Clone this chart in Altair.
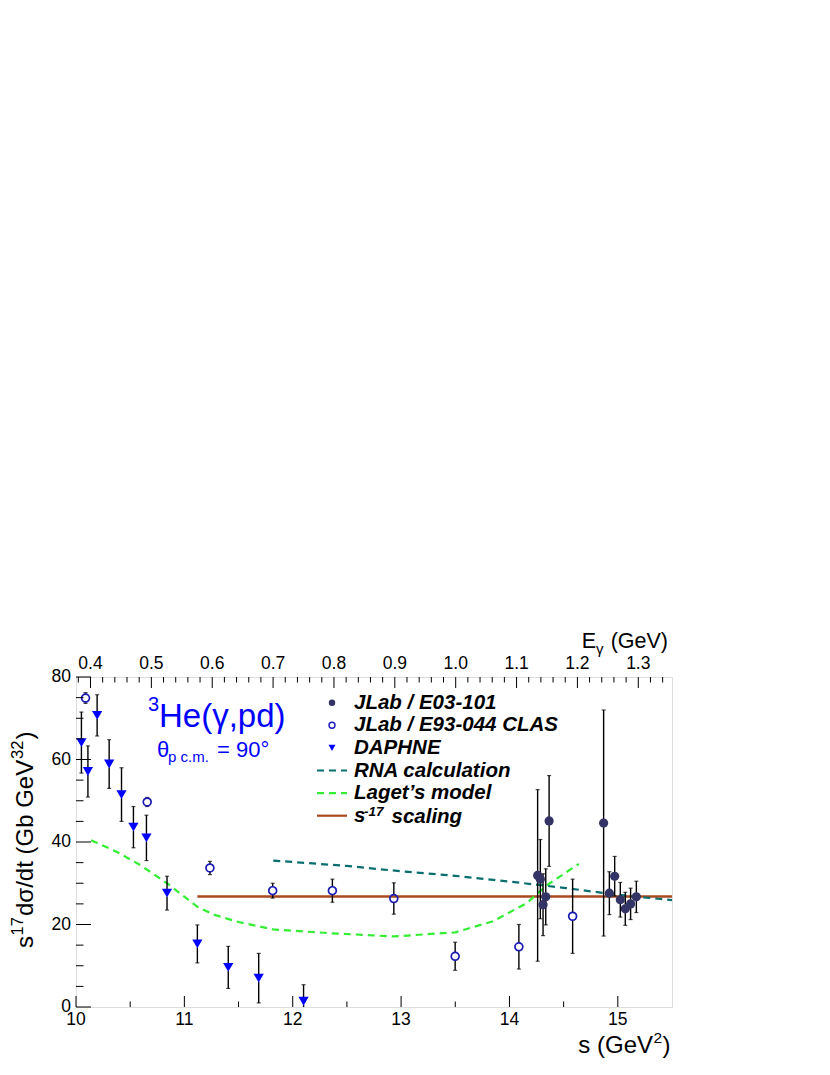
import altair as alt
import pandas as pd

# ---------------- data ----------------
jlab_s = [14.26, 14.285, 14.31, 14.335, 14.366, 14.869, 14.922, 14.971, 15.023, 15.069, 15.118, 15.171]
jlab_y = [31.9, 31.0, 24.8, 26.7, 45.1, 44.6, 27.6, 31.7, 26.0, 23.8, 25.0, 26.7]
jlab_err = [20.8, 9.6, 7.5, 6.8, 11.0, 27.4, 5.2, 4.8, 4.2, 4.0, 3.8, 3.8]

clas_s = [10.088, 10.657, 11.236, 11.815, 12.366, 12.933, 13.499, 14.087, 14.583]
clas_y = [74.9, 49.7, 33.7, 28.2, 28.2, 26.3, 12.3, 14.6, 22.0]
clas_err = [1.3, 1.1, 1.6, 1.8, 2.8, 3.8, 3.4, 5.4, 9.0]

daphne_s = [10.05, 10.11, 10.195, 10.306, 10.42, 10.53, 10.65, 10.84, 11.12, 11.405, 11.686, 12.10]
daphne_y = [64.1, 57.1, 70.7, 58.9, 51.5, 43.6, 41.0, 27.6, 15.3, 9.6, 7.0, 1.4]
daphne_err = [7.4, 6.2, 5.0, 5.9, 6.5, 5.0, 5.5, 4.1, 4.6, 5.1, 6.0, 4.0]

rna_s = [11.82, 12.5, 13.0, 13.5, 14.0, 14.5, 15.0, 15.5]
rna_y = [35.5, 34.2, 32.9, 31.8, 30.4, 28.9, 27.2, 25.9]

laget_s = [10.14, 10.37, 10.6, 10.84, 11.12, 11.27, 11.5, 11.82, 12.34, 12.93, 13.5, 13.85, 14.16, 14.35, 14.64]
laget_y = [40.4, 37.7, 34.3, 30.0, 24.3, 22.4, 20.6, 18.8, 17.9, 17.1, 18.1, 20.8, 25.2, 29.6, 34.7]

scaling_s = [11.12, 15.5]
scaling_y = [26.8, 26.8]

legend_labels = ["JLab / E03-101", "JLab / E93-044 CLAS", "DAPHNE",
                 "RNA calculation", "Laget\u2019s model", "s"]

s_ticks = [10, 11, 12, 13, 14, 15]
s_minor = [10.5, 11.5, 12.5, 13.5, 14.5]
y_ticks = [0, 20, 40, 60, 80]
y_minor = [5, 10, 15, 25, 30, 35, 45, 50, 55, 65, 70, 75]
e_ticks = [0.4, 0.5, 0.6, 0.7, 0.8, 0.9, 1.0, 1.1, 1.2, 1.3]
e_minor = [0.38, 0.42, 0.44, 0.46, 0.48, 0.52, 0.54, 0.56, 0.58, 0.62, 0.64, 0.66, 0.68,
           0.72, 0.74, 0.76, 0.78, 0.82, 0.84, 0.86, 0.88, 0.92, 0.94, 0.96, 0.98,
           1.02, 1.04, 1.06, 1.08, 1.12, 1.14, 1.16, 1.18, 1.22, 1.24, 1.26, 1.28,
           1.32, 1.34]

# ---------------- geometry / style ----------------
W, H = 596, 330
FONT = "Liberation Sans"
S_DOMAIN = [10.0, 15.5]
M_HE3 = 2.80839  # 3He mass, s = M^2 + 2 M E_gamma
E_DOMAIN = [(S_DOMAIN[0] - M_HE3 ** 2) / (2 * M_HE3), (S_DOMAIN[1] - M_HE3 ** 2) / (2 * M_HE3)]

C_JLAB = "#333366"
C_CLAS = "#1a1ab4"
C_DAPH = "#0000ff"
C_RNA = "#0a6e6e"
C_LAGET = "#33ee33"
C_SCAL = "#a84a1e"

xs = alt.Scale(domain=S_DOMAIN, nice=False, zero=False)
ys = alt.Scale(domain=[0, 80], nice=False, zero=False)
es = alt.Scale(domain=E_DOMAIN, nice=False, zero=False)


def frame(s, y, err=None):
    d = {"s": s, "y": y}
    if err is not None:
        d["lo"] = [a - b for a, b in zip(y, err)]
        d["hi"] = [a + b for a, b in zip(y, err)]
    return pd.DataFrame(d)


X0 = alt.X("s:Q", scale=xs, axis=None)
Y0 = alt.Y("y:Q", scale=ys, axis=None)


def errbars(df, gap):
    base = alt.Chart(df)
    up = base.mark_rule(color="black", strokeWidth=1.4, clip=True, y2Offset=-gap).encode(
        x=X0, y=alt.Y("hi:Q", scale=ys, axis=None), y2="y:Q")
    dn = base.mark_rule(color="black", strokeWidth=1.4, clip=True, y2Offset=gap).encode(
        x=X0, y=alt.Y("lo:Q", scale=ys, axis=None), y2="y:Q")
    cap_hi = base.mark_tick(color="black", orient="horizontal", size=4, thickness=1.2,
                            clip=True).encode(x=X0, y=alt.Y("hi:Q", scale=ys, axis=None))
    cap_lo = base.mark_tick(color="black", orient="horizontal", size=4, thickness=1.2,
                            clip=True).encode(x=X0, y=alt.Y("lo:Q", scale=ys, axis=None))
    return [up, dn, cap_hi, cap_lo]


df_j = frame(jlab_s, jlab_y, jlab_err)
df_c = frame(clas_s, clas_y, clas_err)
df_d = frame(daphne_s, daphne_y, daphne_err)

# theory curves
scal = alt.Chart(frame(scaling_s, scaling_y)).mark_line(color=C_SCAL, strokeWidth=2.5).encode(
    x=X0, y=Y0)
rna = alt.Chart(frame(rna_s, rna_y)).mark_line(color=C_RNA, strokeWidth=2.2,
                                               strokeDash=[7, 5]).encode(x=X0, y=Y0)
laget = alt.Chart(frame(laget_s, laget_y)).mark_line(color=C_LAGET, strokeWidth=2.2,
                                                     strokeDash=[7, 5]).encode(x=X0, y=Y0)

pts_d = alt.Chart(df_d).mark_point(shape="triangle-down", filled=True, color=C_DAPH,
                                   size=105, opacity=1, clip=True).encode(x=X0, y=Y0)
pts_c = alt.Chart(df_c).mark_point(shape="circle", filled=False, color=C_CLAS,
                                   size=62, strokeWidth=1.7, opacity=1).encode(x=X0, y=Y0)
pts_j = alt.Chart(df_j).mark_point(shape="circle", filled=True, color=C_JLAB,
                                   size=85, opacity=1).encode(x=X0, y=Y0)


# inward ticks
def tick_rules(vals, axis, length):
    df = pd.DataFrame({"v": vals})
    r = alt.Chart(df).mark_rule(color="black", strokeWidth=1)
    if axis == "bottom":
        return r.encode(x=alt.X("v:Q", scale=xs, axis=None), y=alt.value(H), y2=alt.value(H - length))
    return r.encode(y=alt.Y("v:Q", scale=ys, axis=None), x=alt.value(0), x2=alt.value(length))


ticks = [tick_rules(s_ticks, "bottom", 11), tick_rules(s_minor, "bottom", 5.5),
         tick_rules(y_ticks, "left", 15), tick_rules(y_minor, "left", 7.5)]

# tick labels
lab_bottom = alt.Chart(pd.DataFrame({"v": s_ticks})).mark_text(
    font=FONT, fontSize=17.5, color="black", align="center", baseline="top").encode(
    x=alt.X("v:Q", scale=xs, axis=None), y=alt.value(H + 4), text=alt.Text("v:Q", format="d"))
lab_left = alt.Chart(pd.DataFrame({"v": y_ticks})).mark_text(
    font=FONT, fontSize=17.5, color="black", align="right", baseline="middle").encode(
    y=alt.Y("v:Q", scale=ys, axis=None), x=alt.value(-5), text=alt.Text("v:Q", format="d"))

# legend
leg_df = pd.DataFrame({"label": legend_labels, "row": list(range(len(legend_labels)))})
leg_base = alt.Chart(leg_df).transform_calculate(py="25.7 + datum.row * 22.6")
leg_text = leg_base.mark_text(align="left", baseline="middle", font=FONT, fontSize=20.5,
                              fontWeight="bold", fontStyle="italic", color="black").encode(
    x=alt.value(278), y=alt.Y("py:Q", scale=None, axis=None), text="label:N")

leg_sym_j = leg_base.transform_filter("datum.row == 0").mark_point(
    shape="circle", filled=True, color=C_JLAB, size=42, opacity=1).encode(
    x=alt.value(256), y=alt.Y("py:Q", scale=None, axis=None))
leg_sym_c = leg_base.transform_filter("datum.row == 1").mark_point(
    shape="circle", filled=False, color=C_CLAS, size=36, strokeWidth=1.4, opacity=1).encode(
    x=alt.value(256), y=alt.Y("py:Q", scale=None, axis=None))
leg_sym_d = leg_base.transform_filter("datum.row == 2").mark_point(
    shape="triangle-down", filled=True, color=C_DAPH, size=50, opacity=1).encode(
    x=alt.value(256), y=alt.Y("py:Q", scale=None, axis=None))


def leg_line(row, color, dash):
    kw = dict(color=color, strokeWidth=2.2)
    if dash:
        kw["strokeDash"] = dash
    return leg_base.transform_filter(f"datum.row == {row}").mark_rule(**kw).encode(
        x=alt.value(241), x2=alt.value(271), y=alt.Y("py:Q", scale=None, axis=None))


leg_lines = [leg_line(3, C_RNA, [7, 5]), leg_line(4, C_LAGET, [7, 5]), leg_line(5, C_SCAL, None)]


# annotation texts
def txt(t, x, y, size, color="blue", align="left", weight="normal", style="normal", angle=0):
    return alt.Chart(pd.DataFrame({"t": [t]})).mark_text(
        align=align, baseline="alphabetic", font=FONT, fontSize=size, color=color,
        fontWeight=weight, fontStyle=style, angle=angle).encode(
        x=alt.value(x), y=alt.value(y), text="t:N")


annot = [
    # reaction label
    txt("3", 72, 33.7, 20),
    txt("He(\u03b3,pd)", 83, 49.7, 33),
    txt("\u03b8", 81, 79.7, 22),
    txt("p c.m.", 92, 84.7, 15),
    txt("= 90\u00b0", 141, 79.7, 22),
    # legend superscript for s^-17 scaling
    txt("-17", 288, 138.5, 13.5, color="black", weight="bold", style="italic"),
    txt("scaling", 315.5, 146, 20.5, color="black", weight="bold", style="italic"),
    # top axis title
    txt("E", 505.7, -28.7, 21.5, color="black"),
    txt("\u03b3", 520, -23, 15, color="black"),
    txt("(GeV)", 592, -28.7, 21.5, color="black", align="right"),
    # bottom axis title
    txt("s (GeV", 577, 376, 24, color="black", align="right"),
    txt("2", 577.5, 366, 15.5, color="black"),
    txt(")", 586.5, 376, 24, color="black"),
    # left axis title (rotated)
    txt("s", -43.5, 271, 24, color="black", angle=270),
    txt("17", -53, 258.5, 16.5, color="black", angle=270),
    txt("d\u03c3/dt (Gb GeV", -43.5, 239, 24, color="black", angle=270),
    txt("32", -53, 82, 16.5, color="black", angle=270),
    txt(")", -43.5, 62.5, 24, color="black", angle=270),
]

s_layer = alt.layer(scal, rna, laget,
                    *errbars(df_d, 3.5), *errbars(df_c, 4), *errbars(df_j, 4),
                    pts_d, pts_c, pts_j, *ticks, lab_bottom, lab_left,
                    leg_text, leg_sym_j, leg_sym_c, leg_sym_d, *leg_lines, *annot)

# top (E_gamma) axis drawn on its own linear scale
e_major = alt.Chart(pd.DataFrame({"e": e_ticks})).mark_rule(color="black", strokeWidth=1).encode(
    x=alt.X("e:Q", scale=es, axis=None), y=alt.value(0), y2=alt.value(11))
e_min = alt.Chart(pd.DataFrame({"e": e_minor})).mark_rule(color="black", strokeWidth=1).encode(
    x=alt.X("e:Q", scale=es, axis=None), y=alt.value(0), y2=alt.value(5.5))
e_lab = alt.Chart(pd.DataFrame({"e": e_ticks})).mark_text(
    font=FONT, fontSize=17.5, color="black", align="center", baseline="alphabetic").encode(
    x=alt.X("e:Q", scale=es, axis=None), y=alt.value(-8), text=alt.Text("e:Q", format=".1f"))
e_layer = alt.layer(e_major, e_min, e_lab)

chart = alt.layer(s_layer, e_layer).resolve_scale(x="independent").properties(
    width=W, height=H,
    autosize=alt.AutoSizeParams(type="none"),
    padding={"left": 68, "top": 669, "right": 150, "bottom": 60},
).configure_view(stroke="black", strokeWidth=1.2).configure(background="white")

chart.save("out.html", embed_options={"renderer": "svg", "actions": False})
